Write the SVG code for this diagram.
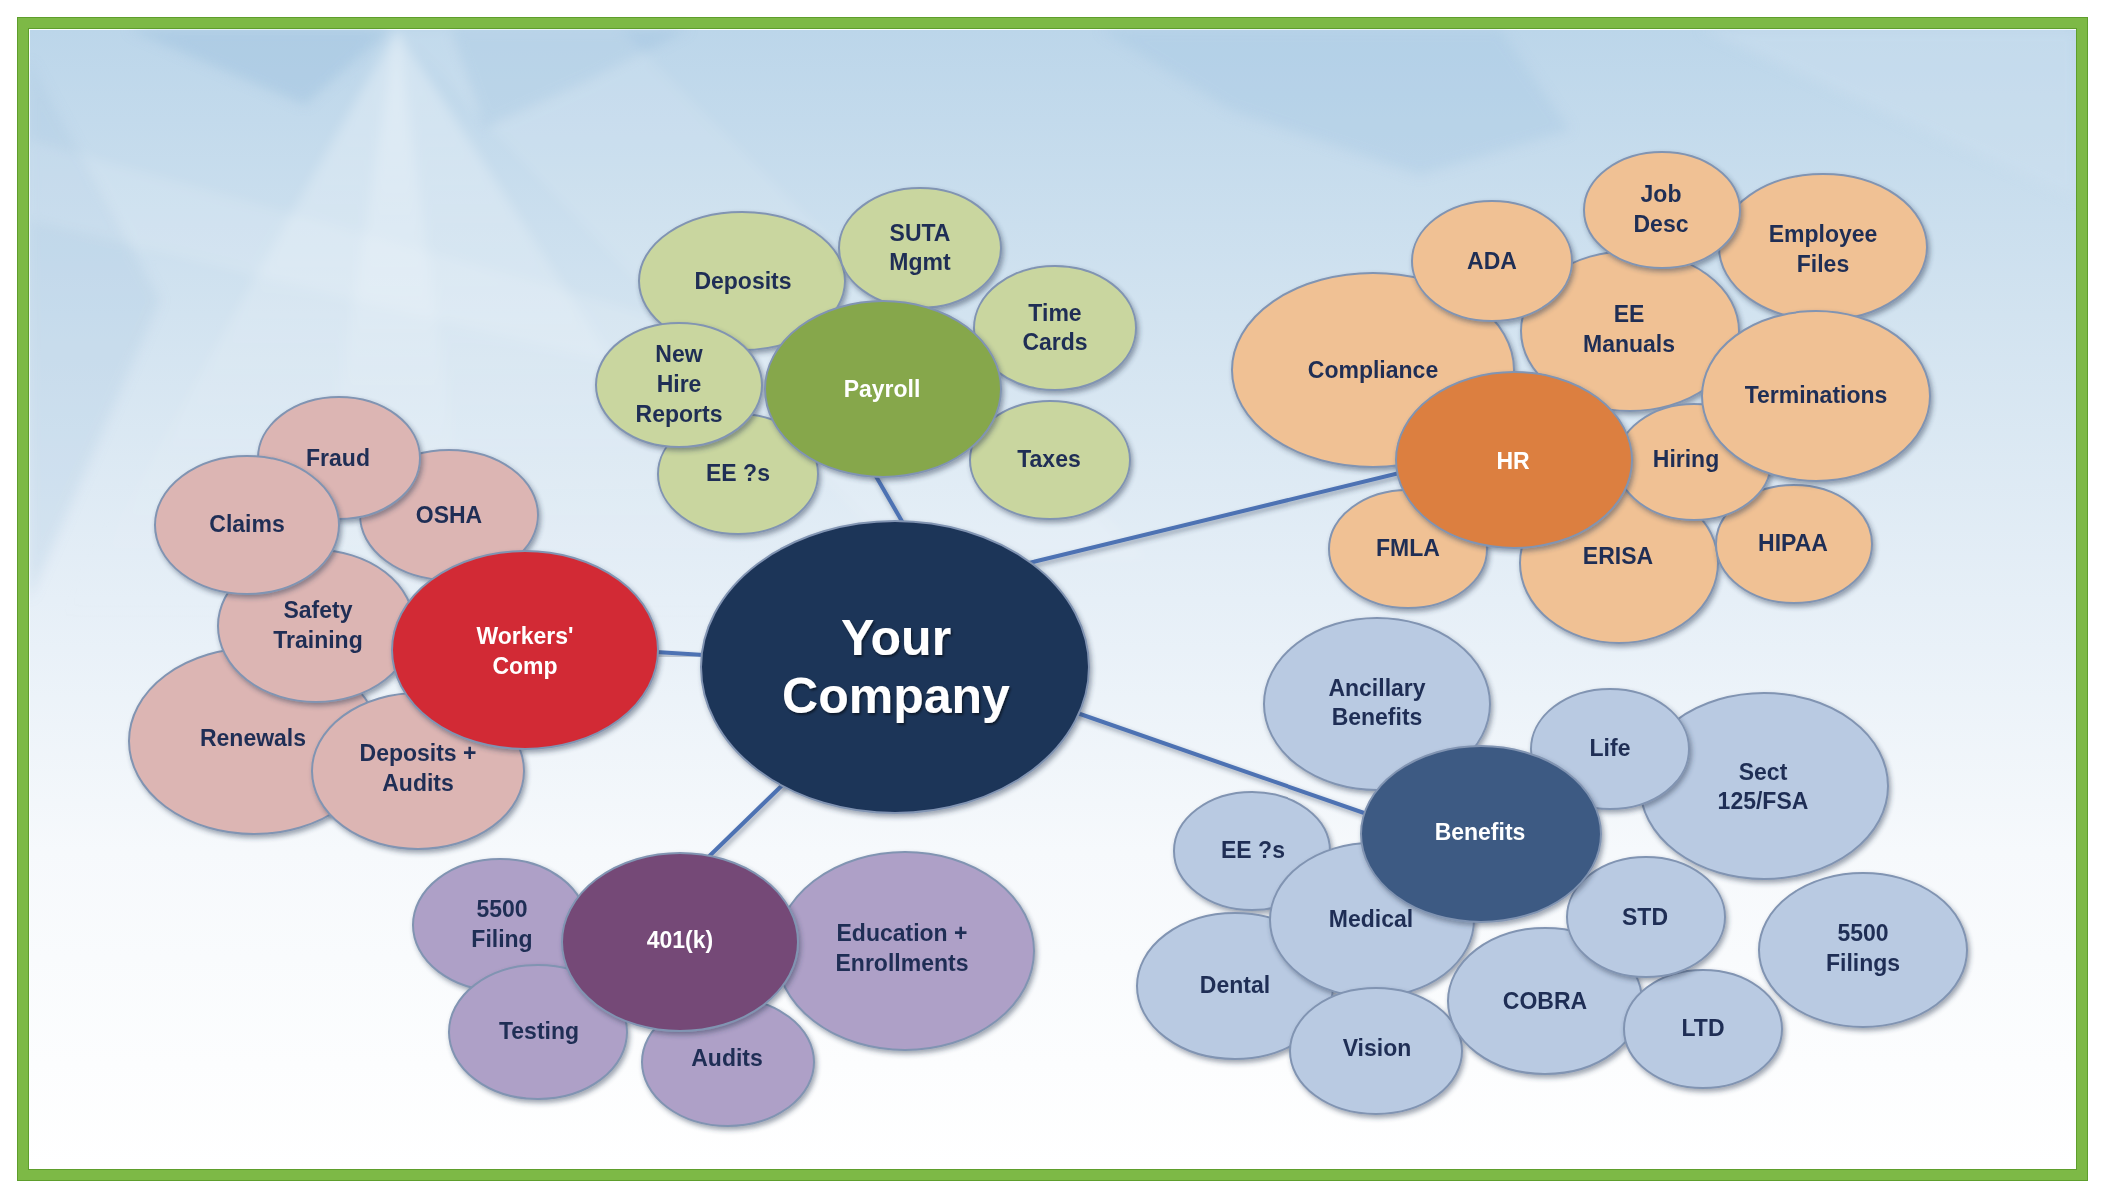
<svg xmlns="http://www.w3.org/2000/svg" width="2112" height="1204" viewBox="0 0 2112 1204">
<defs>
<linearGradient id="bg" x1="0" y1="0" x2="0" y2="1">
<stop offset="0" stop-color="#bcd6ea"/>
<stop offset="0.25" stop-color="#d2e3f0"/>
<stop offset="0.5" stop-color="#e6eff7"/>
<stop offset="0.72" stop-color="#f6f9fc"/>
<stop offset="1" stop-color="#ffffff"/>
</linearGradient>
<linearGradient id="cone" x1="0" y1="0" x2="0" y2="1">
<stop offset="0" stop-color="#ffffff" stop-opacity="0.6"/>
<stop offset="0.6" stop-color="#ffffff" stop-opacity="0.2"/>
<stop offset="1" stop-color="#ffffff" stop-opacity="0"/>
</linearGradient>
<filter id="soft" x="-20%" y="-20%" width="140%" height="140%">
<feGaussianBlur stdDeviation="6"/>
</filter>
<filter id="sh" x="-10%" y="-10%" width="125%" height="130%">
<feDropShadow dx="2" dy="3" stdDeviation="2.5" flood-color="#2c3a52" flood-opacity="0.45"/>
</filter>
<filter id="tsh" x="-10%" y="-20%" width="120%" height="140%">
<feDropShadow dx="1.5" dy="2" stdDeviation="1" flood-color="#000000" flood-opacity="0.5"/>
</filter>
</defs>
<style>
ellipse{stroke:#8194b2;stroke-width:2;filter:url(#sh)}
.pg{fill:#c9d69f}
.pc{fill:#86a74b}
.hg{fill:#f0c194}
.hc{fill:#dc7f3f}
.wg{fill:#dcb5b3}
.wc{fill:#d22a36}
.kg{fill:#aea0c7}
.kc{fill:#744a77}
.bg{fill:#b9cae2}
.bc{fill:#3e5a83}
.yc{fill:#1e3459}
text{font-family:"Liberation Sans",Arial,sans-serif;font-weight:700;font-size:23px;fill:#1f2e55;text-anchor:middle;dominant-baseline:central}
text.w{fill:#ffffff}
text.big{fill:#ffffff;font-size:50px;filter:url(#tsh)}
.conn line{stroke:#4d72b3;stroke-width:4;stroke-linecap:round;filter:url(#sh)}
</style>
<rect x="0" y="0" width="2112" height="1204" fill="#ffffff"/>
<g id="background">
<rect x="30" y="30" width="2047" height="1140" fill="url(#bg)"/>
<g filter="url(#soft)">
<polygon points="29,60 29,600 160,300" fill="#a3c5e1" opacity="0.25"/>
<polygon points="128,29 390,29 305,105" fill="#9dc1de" opacity="0.45"/>
<polygon points="450,29 690,29 590,80 485,128" fill="#9dc1de" opacity="0.4"/>
<polygon points="1100,29 1500,29 1570,130 1420,175 1230,110" fill="#a3c5e1" opacity="0.35"/>
<polygon points="1700,29 2077,29 2077,200 1900,120" fill="#cfe0ef" opacity="0.4"/>
<polygon points="397,29 60,620 780,620" fill="url(#cone)" opacity="0.55"/>
<polygon points="397,29 300,640 480,640" fill="url(#cone)" opacity="0.45"/>
<polygon points="29,140 600,300 1000,420 1000,470 600,360 29,220" fill="#ffffff" opacity="0.12"/>
<polygon points="397,29 620,29 1150,560 900,560" fill="#ffffff" opacity="0.1"/>
</g>
</g>
<rect x="23" y="23" width="2059" height="1152" fill="none" stroke="#7db946" stroke-width="12"/>
<rect x="17.5" y="17.5" width="2070" height="1163" fill="none" stroke="#5e9e2c" stroke-width="1"/>
<rect x="28.5" y="28.5" width="2048" height="1141" fill="none" stroke="#5e9e2c" stroke-width="1"/>
<g class="conn" id="connectors">
<line x1="855" y1="440" x2="907" y2="530"/>
<line x1="1000" y1="570" x2="1420" y2="468"/>
<line x1="640" y1="651" x2="720" y2="656"/>
<line x1="695" y1="870" x2="800" y2="768"/>
<line x1="1060" y1="707" x2="1390" y2="822"/>
</g>
<g id="payroll-cluster">
<g id="n-deposits"><ellipse class="pg" cx="742" cy="281" rx="103" ry="69"/><text x="743" y="281">Deposits</text></g>
<g id="n-payroll-ee"><ellipse class="pg" cx="738" cy="474" rx="80" ry="60"/><text x="738" y="473">EE ?s</text></g>
<g id="n-newhire"><ellipse class="pg" cx="679" cy="385" rx="83" ry="62"/><text x="679" y="354">New</text><text x="679" y="384">Hire</text><text x="679" y="414">Reports</text></g>
<g id="n-suta"><ellipse class="pg" cx="920" cy="248" rx="81" ry="60"/><text x="920" y="233">SUTA</text><text x="920" y="262">Mgmt</text></g>
<g id="n-timecards"><ellipse class="pg" cx="1055" cy="328" rx="81" ry="62"/><text x="1055" y="313">Time</text><text x="1055" y="342">Cards</text></g>
<g id="n-taxes"><ellipse class="pg" cx="1050" cy="460" rx="80" ry="59"/><text x="1049" y="459">Taxes</text></g>
<g id="n-payroll"><ellipse class="pc" cx="883" cy="389" rx="118" ry="88"/><text class="w" x="882" y="389">Payroll</text></g>
</g>
<g id="hr-cluster">
<g id="n-compliance"><ellipse class="hg" cx="1373" cy="370" rx="141" ry="97"/><text x="1373" y="370">Compliance</text></g>
<g id="n-eemanuals"><ellipse class="hg" cx="1630" cy="331" rx="109" ry="80"/><text x="1629" y="314">EE</text><text x="1629" y="344">Manuals</text></g>
<g id="n-ada"><ellipse class="hg" cx="1492" cy="261" rx="80" ry="60"/><text x="1492" y="261">ADA</text></g>
<g id="n-employeefiles"><ellipse class="hg" cx="1823" cy="247" rx="104" ry="73"/><text x="1823" y="234">Employee</text><text x="1823" y="264">Files</text></g>
<g id="n-jobdesc"><ellipse class="hg" cx="1662" cy="210" rx="78" ry="58"/><text x="1661" y="194">Job</text><text x="1661" y="224">Desc</text></g>
<g id="n-erisa"><ellipse class="hg" cx="1619" cy="563" rx="99" ry="80"/><text x="1618" y="556">ERISA</text></g>
<g id="n-hipaa"><ellipse class="hg" cx="1794" cy="544" rx="78" ry="59"/><text x="1793" y="543">HIPAA</text></g>
<g id="n-hiring"><ellipse class="hg" cx="1694" cy="462" rx="77" ry="58"/><text x="1686" y="459">Hiring</text></g>
<g id="n-terminations"><ellipse class="hg" cx="1816" cy="396" rx="114" ry="85"/><text x="1816" y="395">Terminations</text></g>
<g id="n-fmla"><ellipse class="hg" cx="1408" cy="549" rx="79" ry="59"/><text x="1408" y="548">FMLA</text></g>
<g id="n-hr"><ellipse class="hc" cx="1514" cy="460" rx="118" ry="88"/><text class="w" x="1513" y="461">HR</text></g>
</g>
<g id="wc-cluster">
<g id="n-renewals"><ellipse class="wg" cx="254" cy="741" rx="125" ry="93"/><text x="253" y="738">Renewals</text></g>
<g id="n-depaudits"><ellipse class="wg" cx="418" cy="771" rx="106" ry="78"/><text x="418" y="753">Deposits +</text><text x="418" y="783">Audits</text></g>
<g id="n-safety"><ellipse class="wg" cx="316" cy="626" rx="98" ry="76"/><text x="318" y="610">Safety</text><text x="318" y="640">Training</text></g>
<g id="n-osha"><ellipse class="wg" cx="449" cy="515" rx="89" ry="65"/><text x="449" y="515">OSHA</text></g>
<g id="n-fraud"><ellipse class="wg" cx="339" cy="458" rx="81" ry="61"/><text x="338" y="458">Fraud</text></g>
<g id="n-claims"><ellipse class="wg" cx="247" cy="525" rx="92" ry="69"/><text x="247" y="524">Claims</text></g>
<g id="n-workerscomp"><ellipse class="wc" cx="525" cy="650" rx="133" ry="99"/><text class="w" x="525" y="636">Workers'</text><text class="w" x="525" y="666">Comp</text></g>
</g>
<g id="k-cluster">
<g id="n-5500filing"><ellipse class="kg" cx="500" cy="925" rx="87" ry="66"/><text x="502" y="909">5500</text><text x="502" y="939">Filing</text></g>
<g id="n-testing"><ellipse class="kg" cx="538" cy="1032" rx="89" ry="67"/><text x="539" y="1031">Testing</text></g>
<g id="n-audits"><ellipse class="kg" cx="728" cy="1062" rx="86" ry="64"/><text x="727" y="1058">Audits</text></g>
<g id="n-education"><ellipse class="kg" cx="905" cy="951" rx="129" ry="99"/><text x="902" y="933">Education +</text><text x="902" y="963">Enrollments</text></g>
<g id="n-401k"><ellipse class="kc" cx="680" cy="942" rx="118" ry="89"/><text class="w" x="680" y="940">401(k)</text></g>
</g>
<g id="benefits-cluster">
<g id="n-ancillary"><ellipse class="bg" cx="1377" cy="704" rx="113" ry="86"/><text x="1377" y="688">Ancillary</text><text x="1377" y="717">Benefits</text></g>
<g id="n-sect125"><ellipse class="bg" cx="1764" cy="786" rx="124" ry="93"/><text x="1763" y="772">Sect</text><text x="1763" y="801">125/FSA</text></g>
<g id="n-life"><ellipse class="bg" cx="1610" cy="749" rx="79" ry="60"/><text x="1610" y="748">Life</text></g>
<g id="n-benefits-ee"><ellipse class="bg" cx="1252" cy="851" rx="78" ry="59"/><text x="1253" y="850">EE ?s</text></g>
<g id="n-dental"><ellipse class="bg" cx="1235" cy="986" rx="98" ry="73"/><text x="1235" y="985">Dental</text></g>
<g id="n-medical"><ellipse class="bg" cx="1372" cy="920" rx="102" ry="77"/><text x="1371" y="919">Medical</text></g>
<g id="n-vision"><ellipse class="bg" cx="1376" cy="1051" rx="86" ry="63"/><text x="1377" y="1048">Vision</text></g>
<g id="n-cobra"><ellipse class="bg" cx="1545" cy="1001" rx="97" ry="73"/><text x="1545" y="1001">COBRA</text></g>
<g id="n-ltd"><ellipse class="bg" cx="1703" cy="1029" rx="79" ry="59"/><text x="1703" y="1028">LTD</text></g>
<g id="n-std"><ellipse class="bg" cx="1646" cy="917" rx="79" ry="60"/><text x="1645" y="917">STD</text></g>
<g id="n-5500filings"><ellipse class="bg" cx="1863" cy="950" rx="104" ry="77"/><text x="1863" y="933">5500</text><text x="1863" y="963">Filings</text></g>
<g id="n-benefits"><ellipse class="bc" cx="1481" cy="834" rx="120" ry="88"/><text class="w" x="1480" y="832">Benefits</text></g>
</g>
<g id="n-yourcompany"><ellipse class="yc" cx="895" cy="667" rx="194" ry="146"/><text class="big" x="896" y="638">Your</text><text class="big" x="896" y="696">Company</text></g>
</svg>
